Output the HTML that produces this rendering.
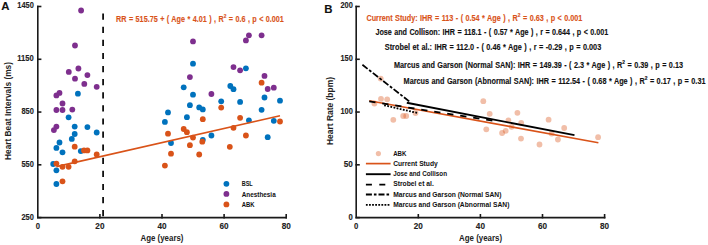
<!DOCTYPE html><html><head><meta charset="utf-8"><style>html,body{margin:0;padding:0;background:#fff;width:708px;height:245px;overflow:hidden}svg{display:block}text{font-family:"Liberation Sans",sans-serif;font-weight:bold;stroke-width:0.12px}text.eq{word-spacing:0.5px}</style></head><body>
<svg width="708" height="245" viewBox="0 0 708 245">
<g stroke="#1a1a1a" stroke-width="1.6" fill="none" stroke-linecap="square">
<path d="M37.8,6.5 V217.6 H286.2"/>
<path d="M37.8,217.60 h2.8"/>
<path d="M37.8,164.82 h2.8"/>
<path d="M37.8,112.05 h2.8"/>
<path d="M37.8,59.28 h2.8"/>
<path d="M37.8,6.50 h2.8"/>
<path d="M99.90,217.6 v-2.8"/>
<path d="M162.00,217.6 v-2.8"/>
<path d="M224.10,217.6 v-2.8"/>
<path d="M286.20,217.6 v-2.8"/>
</g>
<path d="M103.1,13.6 V217.6" stroke="#111" stroke-width="1.8" stroke-dasharray="6.2 6.9"/>
<g stroke="#1a1a1a" stroke-width="1.6" fill="none" stroke-linecap="square">
<path d="M356.2,6.5 V217.6 H604.6"/>
<path d="M356.2,217.60 h2.8"/>
<path d="M356.2,164.82 h2.8"/>
<path d="M356.2,112.05 h2.8"/>
<path d="M356.2,59.28 h2.8"/>
<path d="M356.2,6.50 h2.8"/>
<path d="M418.30,217.6 v-2.8"/>
<path d="M480.40,217.6 v-2.8"/>
<path d="M542.50,217.6 v-2.8"/>
<path d="M604.60,217.6 v-2.8"/>
</g>
<text stroke="#222" x="33.8" y="219.50" text-anchor="end" fill="#222" font-size="8.2" textLength="12.4" lengthAdjust="spacingAndGlyphs">250</text>
<text stroke="#222" x="33.8" y="166.72" text-anchor="end" fill="#222" font-size="8.2" textLength="12.4" lengthAdjust="spacingAndGlyphs">550</text>
<text stroke="#222" x="33.8" y="113.95" text-anchor="end" fill="#222" font-size="8.2" textLength="12.4" lengthAdjust="spacingAndGlyphs">850</text>
<text stroke="#222" x="33.8" y="61.18" text-anchor="end" fill="#222" font-size="8.2" textLength="16.5" lengthAdjust="spacingAndGlyphs">1150</text>
<text stroke="#222" x="33.8" y="8.40" text-anchor="end" fill="#222" font-size="8.2" textLength="16.5" lengthAdjust="spacingAndGlyphs">1450</text>
<text stroke="#222" x="37.80" y="228.9" text-anchor="middle" fill="#222" font-size="8.2" textLength="4.3" lengthAdjust="spacingAndGlyphs">0</text>
<text stroke="#222" x="99.90" y="228.9" text-anchor="middle" fill="#222" font-size="8.2" textLength="9.1" lengthAdjust="spacingAndGlyphs">20</text>
<text stroke="#222" x="162.00" y="228.9" text-anchor="middle" fill="#222" font-size="8.2" textLength="9.1" lengthAdjust="spacingAndGlyphs">40</text>
<text stroke="#222" x="224.10" y="228.9" text-anchor="middle" fill="#222" font-size="8.2" textLength="9.1" lengthAdjust="spacingAndGlyphs">60</text>
<text stroke="#222" x="286.20" y="228.9" text-anchor="middle" fill="#222" font-size="8.2" textLength="9.1" lengthAdjust="spacingAndGlyphs">80</text>
<text stroke="#222" x="352.8" y="219.50" text-anchor="end" fill="#222" font-size="8.2" textLength="4.3" lengthAdjust="spacingAndGlyphs">0</text>
<text stroke="#222" x="352.8" y="166.72" text-anchor="end" fill="#222" font-size="8.2" textLength="9.1" lengthAdjust="spacingAndGlyphs">50</text>
<text stroke="#222" x="352.8" y="113.95" text-anchor="end" fill="#222" font-size="8.2" textLength="12.4" lengthAdjust="spacingAndGlyphs">100</text>
<text stroke="#222" x="352.8" y="61.18" text-anchor="end" fill="#222" font-size="8.2" textLength="12.4" lengthAdjust="spacingAndGlyphs">150</text>
<text stroke="#222" x="352.8" y="8.40" text-anchor="end" fill="#222" font-size="8.2" textLength="12.4" lengthAdjust="spacingAndGlyphs">200</text>
<text stroke="#222" x="356.20" y="228.9" text-anchor="middle" fill="#222" font-size="8.2" textLength="4.3" lengthAdjust="spacingAndGlyphs">0</text>
<text stroke="#222" x="418.30" y="228.9" text-anchor="middle" fill="#222" font-size="8.2" textLength="9.1" lengthAdjust="spacingAndGlyphs">20</text>
<text stroke="#222" x="480.40" y="228.9" text-anchor="middle" fill="#222" font-size="8.2" textLength="9.1" lengthAdjust="spacingAndGlyphs">40</text>
<text stroke="#222" x="542.50" y="228.9" text-anchor="middle" fill="#222" font-size="8.2" textLength="9.1" lengthAdjust="spacingAndGlyphs">60</text>
<text stroke="#222" x="604.60" y="228.9" text-anchor="middle" fill="#222" font-size="8.2" textLength="9.1" lengthAdjust="spacingAndGlyphs">80</text>
<text x="162" y="241" text-anchor="middle" font-size="8.7" fill="#222" textLength="43" lengthAdjust="spacingAndGlyphs">Age (years)</text>
<text x="480.6" y="241" text-anchor="middle" font-size="8.7" fill="#222" textLength="43" lengthAdjust="spacingAndGlyphs">Age (years)</text>
<text transform="translate(11.0,111) rotate(-90)" text-anchor="middle" font-size="8.7" fill="#222" textLength="98" lengthAdjust="spacingAndGlyphs">Heart Beat Intervals (ms)</text>
<text transform="translate(333.3,111) rotate(-90)" text-anchor="middle" font-size="8.7" fill="#222" textLength="68" lengthAdjust="spacingAndGlyphs">Heart Rate (bpm)</text>
<text stroke="#111" x="1.2" y="10.2" font-size="11.4" fill="#111">A</text>
<text stroke="#111" x="324.2" y="12.7" font-size="11.4" fill="#111">B</text>
<g fill="#0072BD"><circle cx="77.9" cy="93.7" r="2.9"/><circle cx="68.6" cy="117.3" r="2.9"/><circle cx="74.7" cy="126.6" r="2.9"/><circle cx="87.4" cy="127.1" r="2.9"/><circle cx="96.7" cy="132.5" r="2.9"/><circle cx="74.7" cy="134" r="2.9"/><circle cx="71.8" cy="138.9" r="2.9"/><circle cx="59.5" cy="142.5" r="2.9"/><circle cx="56.4" cy="147.9" r="2.9"/><circle cx="62.5" cy="152.3" r="2.9"/><circle cx="80.8" cy="151.1" r="2.9"/><circle cx="53.2" cy="164" r="2.9"/><circle cx="56.4" cy="170.3" r="2.9"/><circle cx="56.4" cy="184" r="2.9"/><circle cx="168" cy="112.4" r="2.9"/><circle cx="164.9" cy="121.9" r="2.9"/><circle cx="193" cy="63.7" r="2.9"/><circle cx="183.7" cy="87.3" r="2.9"/><circle cx="193" cy="94.7" r="2.9"/><circle cx="189.9" cy="105.2" r="2.9"/><circle cx="199.2" cy="107.4" r="2.9"/><circle cx="202.8" cy="109.4" r="2.9"/><circle cx="221.2" cy="101.3" r="2.9"/><circle cx="186.9" cy="117.2" r="2.9"/><circle cx="211.4" cy="135.5" r="2.9"/><circle cx="202.8" cy="139.8" r="2.9"/><circle cx="171" cy="143" r="2.9"/><circle cx="245.9" cy="68.3" r="2.9"/><circle cx="230.3" cy="86" r="2.9"/><circle cx="233.5" cy="89.2" r="2.9"/><circle cx="240.1" cy="101.9" r="2.9"/><circle cx="264.5" cy="97.5" r="2.9"/><circle cx="280" cy="100.7" r="2.9"/><circle cx="261.6" cy="109.8" r="2.9"/><circle cx="248.9" cy="120.3" r="2.9"/><circle cx="273.8" cy="120.8" r="2.9"/><circle cx="267.7" cy="137.2" r="2.9"/></g>
<g fill="#7E2F8E"><circle cx="81.1" cy="10.5" r="2.9"/><circle cx="75" cy="45.5" r="2.9"/><circle cx="68.8" cy="71.9" r="2.9"/><circle cx="78.4" cy="68.5" r="2.9"/><circle cx="87.4" cy="75.1" r="2.9"/><circle cx="75" cy="78.7" r="2.9"/><circle cx="84.3" cy="83.9" r="2.9"/><circle cx="96.7" cy="86.8" r="2.9"/><circle cx="59.5" cy="92.9" r="2.9"/><circle cx="56.4" cy="95.4" r="2.9"/><circle cx="62.5" cy="103.5" r="2.9"/><circle cx="56.4" cy="110" r="2.9"/><circle cx="62.5" cy="110" r="2.9"/><circle cx="72.3" cy="109.6" r="2.9"/><circle cx="56.4" cy="126.6" r="2.9"/><circle cx="53.9" cy="130.1" r="2.9"/><circle cx="193" cy="41.4" r="2.9"/><circle cx="189.9" cy="77.1" r="2.9"/><circle cx="211.4" cy="94" r="2.9"/><circle cx="248.9" cy="35.3" r="2.9"/><circle cx="245.9" cy="40.4" r="2.9"/><circle cx="261.6" cy="35.3" r="2.9"/><circle cx="233.5" cy="67.1" r="2.9"/><circle cx="240.1" cy="70.3" r="2.9"/><circle cx="264.5" cy="75.9" r="2.9"/><circle cx="267.7" cy="89" r="2.9"/><circle cx="273.8" cy="87.7" r="2.9"/></g>
<g fill="#D95319"><circle cx="74.7" cy="146.7" r="2.9"/><circle cx="84" cy="150.4" r="2.9"/><circle cx="87.4" cy="150.4" r="2.9"/><circle cx="96.7" cy="154.5" r="2.9"/><circle cx="74.7" cy="161.3" r="2.9"/><circle cx="56.4" cy="163.6" r="2.9"/><circle cx="62.5" cy="166.8" r="2.9"/><circle cx="68.6" cy="166.8" r="2.9"/><circle cx="62.5" cy="181.3" r="2.9"/><circle cx="168" cy="133.7" r="2.9"/><circle cx="164.9" cy="165.6" r="2.9"/><circle cx="202.8" cy="119.2" r="2.9"/><circle cx="183.7" cy="129" r="2.9"/><circle cx="186.9" cy="132.2" r="2.9"/><circle cx="193" cy="137.6" r="2.9"/><circle cx="202.3" cy="141.7" r="2.9"/><circle cx="189.9" cy="145.2" r="2.9"/><circle cx="171" cy="153.7" r="2.9"/><circle cx="199.2" cy="154.5" r="2.9"/><circle cx="229.8" cy="146.8" r="2.9"/><circle cx="261.6" cy="82.7" r="2.9"/><circle cx="221.2" cy="107.6" r="2.9"/><circle cx="240.1" cy="117.8" r="2.9"/><circle cx="280" cy="121.5" r="2.9"/><circle cx="233.5" cy="127.8" r="2.9"/><circle cx="245.9" cy="135.5" r="2.9"/></g>
<path d="M56.43,166.62 L279.99,115.83" stroke="#D95319" stroke-width="1.6"/>
<text stroke="#D95319" x="116.1" y="21.8" class="eq" font-size="8.6" fill="#D95319" textLength="167.8" lengthAdjust="spacingAndGlyphs">RR = 515.75 + ( Age * 4.01 ) , R<tspan dy="-4.1" font-size="5.8">2</tspan><tspan dy="4.1"> = 0.6 , p &lt; 0.001</tspan></text>
<circle cx="226.4" cy="183.8" r="2.9" fill="#0072BD"/>
<text x="241.7" y="186.4" font-size="7.8" fill="#111" textLength="11" lengthAdjust="spacingAndGlyphs">BSL</text>
<circle cx="226.4" cy="193.9" r="2.9" fill="#7E2F8E"/>
<text x="241.7" y="196.5" font-size="7.8" fill="#111" textLength="34" lengthAdjust="spacingAndGlyphs">Anesthesia</text>
<circle cx="226.4" cy="204.4" r="2.9" fill="#D95319"/>
<text x="241.7" y="207.0" font-size="7.8" fill="#111" textLength="12.8" lengthAdjust="spacingAndGlyphs">ABK</text>
<g fill="#D95319" fill-opacity="0.38"><circle cx="380.7" cy="78.6" r="2.9"/><circle cx="381.0" cy="98.8" r="2.9"/><circle cx="387.2" cy="99.3" r="2.9"/><circle cx="374.4" cy="103.5" r="2.9"/><circle cx="393.3" cy="119.8" r="2.9"/><circle cx="403.2" cy="116.0" r="2.9"/><circle cx="406.2" cy="116.0" r="2.9"/><circle cx="415.5" cy="113.0" r="2.9"/><circle cx="483.3" cy="101.2" r="2.9"/><circle cx="489.7" cy="113.8" r="2.9"/><circle cx="486.3" cy="129.3" r="2.9"/><circle cx="502.1" cy="133.0" r="2.9"/><circle cx="505.7" cy="130.8" r="2.9"/><circle cx="508.4" cy="120.4" r="2.9"/><circle cx="511.6" cy="126.8" r="2.9"/><circle cx="517.4" cy="112.8" r="2.9"/><circle cx="521.2" cy="122.8" r="2.9"/><circle cx="521.0" cy="138.6" r="2.9"/><circle cx="539.5" cy="144.5" r="2.9"/><circle cx="548.6" cy="119.7" r="2.9"/><circle cx="551.6" cy="133.5" r="2.9"/><circle cx="557.9" cy="139.5" r="2.9"/><circle cx="564.2" cy="128.0" r="2.9"/><circle cx="598.1" cy="137.2" r="2.9"/></g>
<path d="M369.24,100.72 L598.39,142.79" stroke="#D95319" stroke-width="1.6"/>
<path d="M369.24,101.42 L495.92,121.23" stroke="#000" stroke-width="1.8" stroke-dasharray="6.3 6.85"/>
<path d="M384.14,105.27 L418.30,113.17" stroke="#000" stroke-width="1.8" stroke-dasharray="1.8 1.4"/>
<path d="M406.81,102.75 L574.48,135.24" stroke="#000" stroke-width="1.8"/>
<path d="M362.41,64.77 L410.54,102.40" stroke="#000" stroke-width="1.8" stroke-dasharray="6.6 1.9 2.8 1.9"/>
<text stroke="#D95319" x="366.4" y="20.7" class="eq" font-size="8.6" fill="#D95319" textLength="216" lengthAdjust="spacingAndGlyphs">Current Study: IHR = 113 - ( 0.54 * Age ) , R<tspan dy="-4.1" font-size="5.8">2</tspan><tspan dy="4.1"> = 0.63 , p &lt; 0.001</tspan></text>
<text stroke="#111" x="375.4" y="34.6" class="eq" font-size="8.6" fill="#111" textLength="232.9" lengthAdjust="spacingAndGlyphs">Jose and Collison: IHR = 118.1 - ( 0.57 * Age ) , r = 0.644 , p &lt; 0.001</text>
<text stroke="#111" x="384.8" y="50.4" class="eq" font-size="8.6" fill="#111" textLength="216.4" lengthAdjust="spacingAndGlyphs">Strobel et al.: IHR = 112.0 - ( 0.46 * Age ) , r = -0.29 , p = 0.003</text>
<text stroke="#111" x="394" y="67.9" class="eq" font-size="8.6" fill="#111" textLength="289" lengthAdjust="spacingAndGlyphs">Marcus and Garson (Normal SAN): IHR = 149.39 - ( 2.3 * Age ) , R<tspan dy="-4.1" font-size="5.8">2</tspan><tspan dy="4.1"> = 0.39 , p = 0.13</tspan></text>
<text stroke="#111" x="403.6" y="83.6" class="eq" font-size="8.6" fill="#111" textLength="301.9" lengthAdjust="spacingAndGlyphs">Marcus and Garson (Abnormal SAN): IHR = 112.54 - ( 0.68 * Age ) , R<tspan dy="-4.1" font-size="5.8">2</tspan><tspan dy="4.1"> = 0.17 , p = 0.31</tspan></text>
<circle cx="378.4" cy="153.6" r="2.6" fill="#D95319" fill-opacity="0.38"/>
<path d="M365.9,163.6 H390.6" stroke="#D95319" stroke-width="1.7"/>
<path d="M365.9,174.2 H390.6" stroke="#000" stroke-width="1.9"/>
<path d="M365.9,184.6 H390.6" stroke="#000" stroke-width="1.9" stroke-dasharray="6 7.4"/>
<path d="M365.9,194.5 H390.6" stroke="#000" stroke-width="1.9" stroke-dasharray="6 2 2.6 2"/>
<path d="M365.9,204.9 H390.6" stroke="#000" stroke-width="1.9" stroke-dasharray="1.8 1.3"/>
<text x="393.2" y="155.6" font-size="7.8" fill="#111" textLength="13.2" lengthAdjust="spacingAndGlyphs">ABK</text>
<text x="393.2" y="166.2" font-size="7.8" fill="#111" textLength="44.5" lengthAdjust="spacingAndGlyphs">Current Study</text>
<text x="393.2" y="176.3" font-size="7.8" fill="#111" textLength="53.8" lengthAdjust="spacingAndGlyphs">Jose and Collison</text>
<text x="393.2" y="186.1" font-size="7.8" fill="#111" textLength="40.6" lengthAdjust="spacingAndGlyphs">Strobel et al.</text>
<text x="393.2" y="196.7" font-size="7.8" fill="#111" textLength="108.2" lengthAdjust="spacingAndGlyphs">Marcus and Garson (Normal SAN)</text>
<text x="393.2" y="206.5" font-size="7.8" fill="#111" textLength="116.2" lengthAdjust="spacingAndGlyphs">Marcus and Garson (Abnormal SAN)</text>
</svg></body></html>
